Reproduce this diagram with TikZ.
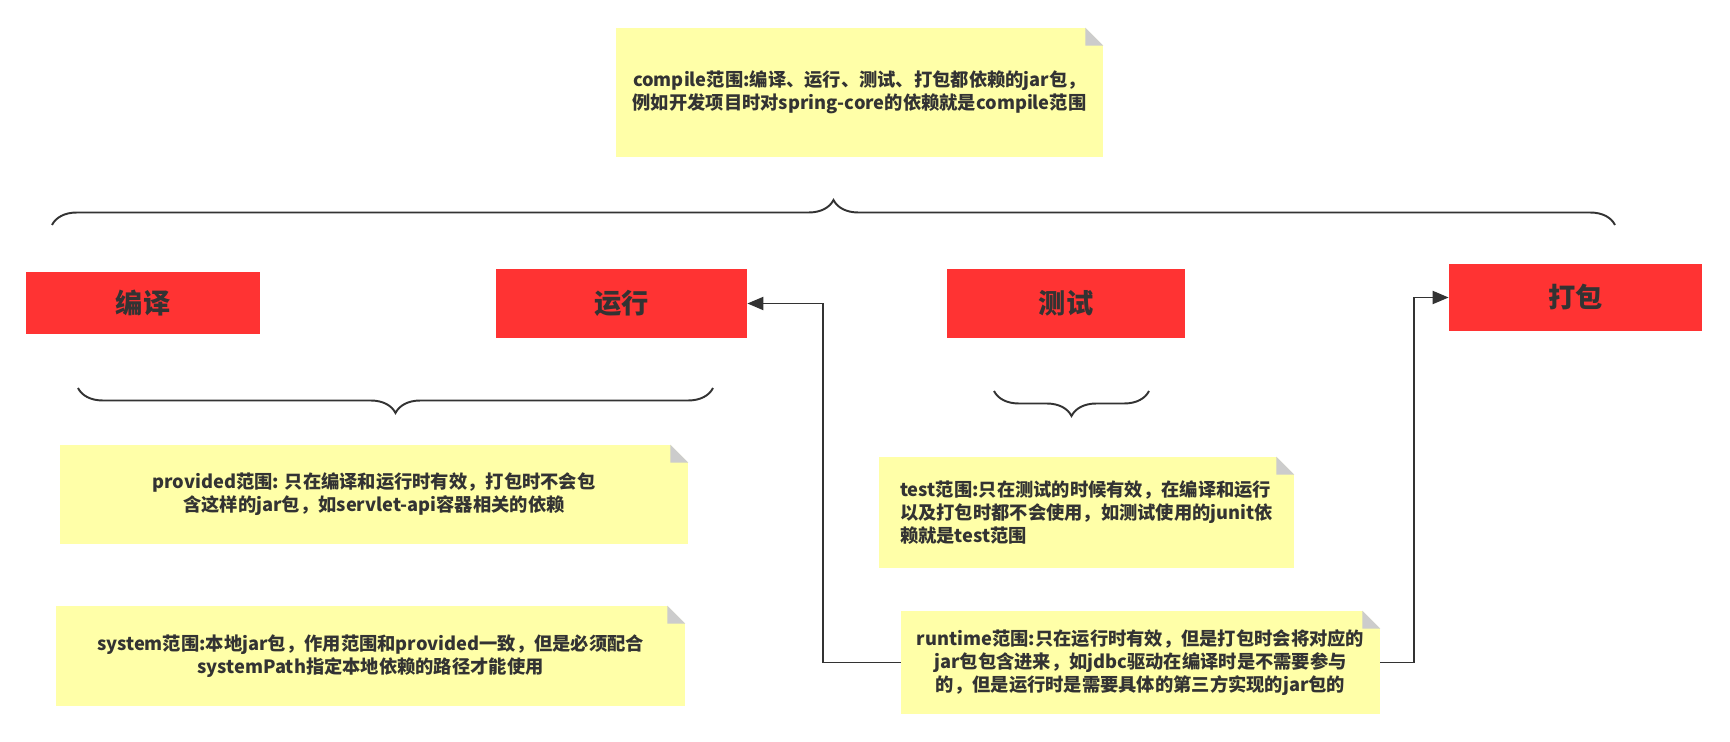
\documentclass[tikz,border=0pt]{standalone}
\usepackage{fontspec}
\setmainfont{Noto Sans CJK SC}
\usetikzlibrary{arrows.meta,decorations.pathreplacing}
\definecolor{boxred}{HTML}{FF3333}
\definecolor{noteyellow}{HTML}{FFFFA8}
\definecolor{foldgray}{HTML}{CCCCCC}
\definecolor{ink}{HTML}{333333}
\begin{document}
\begin{tikzpicture}[x=0.02cm,y=-0.02cm,
  stage/.style={fill=boxred,text=ink,font=\fontsize{15.5}{18}\selectfont\bfseries,inner sep=0pt},
  note/.style={fill=noteyellow,text=ink,font=\fontsize{10.4}{13}\selectfont\bfseries,align=center,inner sep=0pt},
  brace/.style={draw=ink,line width=1.1pt,decorate,decoration={brace,amplitude=0.5cm}},
  link/.style={draw=ink,line width=1.1pt,-{Triangle[length=0.32cm,width=0.26cm]}}]
\useasboundingbox (0,0) rectangle (1730,742);
\node[note,minimum width=487*0.02cm,minimum height=129*0.02cm] (compile) at (859.5,92.5)
  {compile范围:编译、运行、测试、打包都依赖的jar包，\\例如开发项目时对spring-core的依赖就是compile范围};
\node[stage,minimum width=234*0.02cm,minimum height=62*0.02cm] (compilebox) at (143,303) {编译};
\node[stage,minimum width=251*0.02cm,minimum height=69*0.02cm] (run) at (621.5,303.5) {运行};
\node[stage,minimum width=238*0.02cm,minimum height=69*0.02cm] (test) at (1066,303.5) {测试};
\node[stage,minimum width=253*0.02cm,minimum height=67*0.02cm] (pack) at (1575.5,297.5) {打包};
\node[note,minimum width=628*0.02cm,minimum height=99*0.02cm] (provided) at (374,494.5)
  {provided范围: 只在编译和运行时有效，打包时不会包\\含这样的jar包，如servlet-api容器相关的依赖};
\node[note,minimum width=629*0.02cm,minimum height=100*0.02cm] (system) at (370.5,656)
  {system范围:本地jar包，作用范围和provided一致，但是必须配合\\systemPath指定本地依赖的路径才能使用};
\node[note,align=left,minimum width=415*0.02cm,minimum height=111*0.02cm] (testnote) at (1086.5,512.5)
  {test范围:只在测试的时候有效，在编译和运行\\以及打包时都不会使用，如测试使用的junit依\\赖就是test范围};
\node[note,minimum width=479*0.02cm,minimum height=103*0.02cm] (runtime) at (1140.5,662.5)
  {runtime范围:只在运行时有效，但是打包时会将对应的\\jar包包含进来，如jdbc驱动在编译时是不需要参与\\的，但是运行时是需要具体的第三方实现的jar包的};
% folded corners
\foreach \n in {compile,provided,system,testnote,runtime} {
  \fill[white] (\n.north east) -- ++(-18,0) -- ++(18,18) -- cycle;
  \fill[foldgray] (\n.north east) ++(-18,0) -- ++(0,18) -- ++(18,0) -- cycle;
}
\draw[brace] (52,225) -- (1615,225);
\draw[brace] (713,388) -- (78,388);
\draw[brace] (1149,391) -- (994,391);
\draw[link] (runtime.west) -- ++(-78,0) |- (run.east);
\draw[link] (runtime.east) -- ++(34,0) |- (pack.west);
\end{tikzpicture}
\end{document}
